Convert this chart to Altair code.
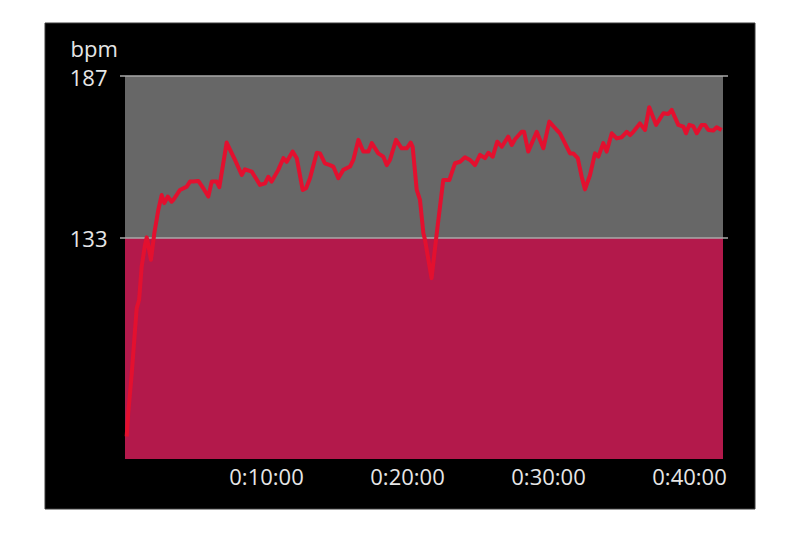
import altair as alt
import pandas as pd

# ---- data ----
minutes = [0.12, 0.23, 0.48, 0.71, 0.83, 1.00, 1.18, 1.42, 1.54, 1.65, 1.84, 2.08, 2.36, 2.60, 2.79,
           3.03, 3.31, 3.43, 3.90, 4.38, 4.61, 4.84, 5.20, 5.55, 5.91, 6.15, 6.50, 6.69, 7.21, 7.80,
           8.28, 8.51, 8.99, 9.57, 9.93, 10.16, 10.40, 10.87, 11.23, 11.47, 11.89, 12.18, 12.60, 12.84,
           13.12, 13.60, 13.83, 14.18, 14.54, 14.77, 15.13, 15.48, 15.96, 16.19, 16.55, 16.90, 17.26,
           17.50, 17.96, 18.32, 18.56, 18.79, 19.22, 19.62, 19.98, 20.26, 20.40, 20.69, 20.92, 21.16,
           21.28, 21.74, 22.11, 22.57, 23.00, 23.40, 23.76, 24.11, 24.47, 24.82, 25.18, 25.53, 25.77,
           26.08, 26.40, 26.72, 27.18, 27.43, 27.66, 28.13, 28.30, 28.60, 29.20, 29.67, 30.09, 30.62,
           30.85, 31.33, 31.56, 31.79, 32.11, 32.39, 32.62, 32.98, 33.33, 33.57, 33.92, 34.16, 34.52,
           34.87, 35.23, 35.58, 35.82, 36.05, 36.52, 36.88, 37.18, 37.66, 38.18, 38.53, 38.77, 39.24,
           39.60, 39.79, 40.02, 40.30, 40.55, 40.90, 41.13, 41.37, 41.72, 41.96, 42.31]
bpm = [66.8, 74.6, 87.9, 102.3, 109.6, 112.3, 123.4, 130.7, 133.2, 130.7, 125.7, 134.6, 142.3, 147.3, 144.6,
       146.8, 145.1, 145.7, 149.0, 150.1, 151.8, 151.8, 152.0, 149.6, 146.8, 151.8, 151.8, 149.9, 164.8, 159.0,
       154.0, 155.9, 155.1, 150.7, 151.2, 153.4, 151.8, 155.7, 159.6, 158.4, 161.8, 159.6, 149.0, 149.6,
       152.9, 161.4, 161.2, 157.9, 157.3, 156.8, 152.9, 155.7, 156.8, 159.0, 165.7, 161.8, 161.8,
       164.6, 161.2, 160.1, 157.3, 159.0, 165.7, 162.9, 162.9, 164.8, 163.4, 149.0, 145.7, 134.6,
       132.3, 119.6, 134.6, 152.3, 152.3, 157.9, 158.4, 159.9, 159.0, 157.3, 160.7, 159.6, 161.4,
       160.1, 165.1, 163.4, 166.8, 164.0, 165.9, 168.4, 168.4, 161.8, 168.4, 162.9, 171.8, 169.0,
       167.9, 163.4, 161.2, 161.2, 159.6, 153.4, 149.2, 154.0, 161.2, 160.1, 164.6, 161.8, 167.9,
       166.2, 166.6, 168.4, 167.3, 168.4, 171.2, 169.0, 176.6, 170.7, 174.6, 174.3, 175.7, 170.7,
       170.1, 167.9, 170.7, 170.3, 167.9, 170.7, 170.7, 169.0, 168.8, 169.9, 169.0]

zone_names = ["below", "above"]
zone_low = [59.3, 133]
zone_high = [133, 187]
grid_values = [133, 187]
x_ticks = [10, 20, 30, 40]
x_max = 42.41
y_min, y_max = 59.3, 187

# ---- layout ----
W, H = 598, 383
FONT = "Open Sans"
TXT = "#e6e6e6"

hr = pd.DataFrame({"t": minutes, "bpm": bpm})
zones = pd.DataFrame({"zone": zone_names, "lo": zone_low, "hi": zone_high})
grid = pd.DataFrame({"v": grid_values})

xscale = alt.Scale(domain=[0, x_max], nice=False, zero=False)
yscale = alt.Scale(domain=[y_min, y_max], nice=False, zero=False)

yaxis = alt.Axis(values=grid_values, labelPadding=18, labelOffset=2, zindex=5,
                 title="bpm", titleAngle=0, titleX=-55, titleY=-20,
                 titleAlign="left", titleBaseline="alphabetic",
                 titleFont=FONT, titleFontSize=22, titleFontWeight="normal", titleColor=TXT)
xaxis = alt.Axis(values=x_ticks, labelExpr="'0:' + datum.value + ':00'", title=None,
                 labelPadding=8, labelFlush=False, zindex=5)

frame = alt.Chart(pd.DataFrame({"k": [0]})).mark_rect(
    color="black", stroke="#3a3a3a", strokeWidth=1
).encode(x=alt.value(-80), x2=alt.value(W + 32), y=alt.value(-53), y2=alt.value(H + 50))

zone_layer = alt.Chart(zones).mark_rect().encode(
    x=alt.value(0), x2=alt.value(W),
    y=alt.Y("lo:Q", scale=yscale, axis=yaxis, title="bpm"),
    y2="hi:Q",
    color=alt.Color("zone:N", scale=alt.Scale(domain=zone_names, range=["#b3194b", "#676767"]), legend=None),
)

grid_layer = alt.Chart(grid).mark_rule(color="#a8a8a8", strokeWidth=1.5).encode(
    x=alt.value(-5), x2=alt.value(W + 5),
    y=alt.Y("v:Q", scale=yscale, title="bpm"),
)

line = alt.Chart(hr).mark_line(color="#e3102f", strokeWidth=4, strokeJoin="round").encode(
    x=alt.X("t:Q", scale=xscale, axis=xaxis),
    y=alt.Y("bpm:Q", scale=yscale, title="bpm"),
)

chart = alt.layer(frame, zone_layer, grid_layer, line).properties(
    width=W, height=H,
    autosize=alt.AutoSizeParams(type="none"),
    padding={"left": 117, "top": 68, "right": 69, "bottom": 58},
    background="white",
).configure_view(stroke=None).configure_axis(
    labelFont=FONT, labelFontSize=22, labelColor=TXT,
    domain=False, ticks=False, tickSize=0, grid=False,
)

chart.save("out.html", embed_options={"renderer": "svg", "actions": False})
